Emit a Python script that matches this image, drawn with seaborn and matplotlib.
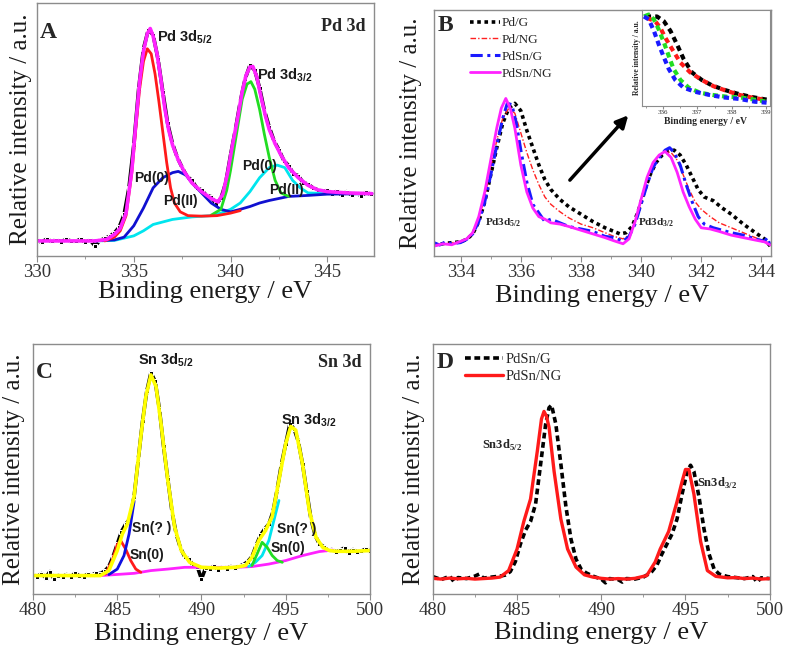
import matplotlib
matplotlib.use("Agg")
import matplotlib.pyplot as plt
from matplotlib.ticker import MultipleLocator
import seaborn as sns

# ---------------- panel A : Pd 3d fit ----------------
a_data_x = [330.00, 330.25, 330.50, 330.75, 331.00, 331.25, 331.50, 331.75, 332.00, 332.25,
            332.50, 332.75, 333.00, 333.25, 333.50, 333.75, 334.00, 334.25, 334.50, 334.75,
            335.00, 335.25, 335.50, 335.75, 336.00, 336.25, 336.50, 336.75, 337.00, 337.25,
            337.50, 337.75, 338.00, 338.25, 338.50, 338.75, 339.00, 339.25, 339.50, 339.75,
            340.00, 340.25, 340.50, 340.75, 341.00, 341.25, 341.50, 341.75, 342.00, 342.25,
            342.50, 342.75, 343.00, 343.25, 343.50, 343.75, 344.00, 344.25, 344.50, 344.75,
            345.00, 345.25, 345.50, 345.75, 346.00, 346.25, 346.50, 346.75, 347.00, 347.25]
a_data_y = [0.062, 0.055, 0.068, 0.058, 0.064, 0.057, 0.066, 0.060, 0.058, 0.067,
            0.055, 0.063, 0.040, 0.062, 0.070, 0.078, 0.092, 0.115, 0.165, 0.270,
            0.440, 0.660, 0.820, 0.895, 0.875, 0.780, 0.650, 0.525, 0.445, 0.390,
            0.350, 0.315, 0.300, 0.270, 0.262, 0.240, 0.235, 0.205, 0.228, 0.290,
            0.400, 0.500, 0.610, 0.700, 0.755, 0.735, 0.665, 0.575, 0.510, 0.455,
            0.420, 0.378, 0.358, 0.325, 0.318, 0.290, 0.285, 0.270, 0.262, 0.250,
            0.262, 0.245, 0.258, 0.240, 0.255, 0.242, 0.250, 0.238, 0.252, 0.244]
a_env_x = [330.0, 333.0, 333.6, 334.0, 334.3, 334.6, 334.9, 335.1, 335.3, 335.5, 335.7, 335.85,
           336.0, 336.2, 336.4, 336.6, 336.8, 337.0, 337.3, 337.6, 338.0, 338.5, 339.0, 339.35,
           339.6, 339.85, 340.1, 340.35, 340.6, 340.8, 341.0, 341.15, 341.35, 341.6, 341.8, 342.0,
           342.3, 342.6, 343.0, 343.5, 344.0, 344.5, 345.0, 346.0, 347.3]
a_env_y = [0.060, 0.060, 0.066, 0.086, 0.110, 0.170, 0.340, 0.520, 0.690, 0.810, 0.880, 0.900,
           0.870, 0.800, 0.700, 0.585, 0.500, 0.440, 0.380, 0.335, 0.290, 0.255, 0.228, 0.214,
           0.245, 0.330, 0.440, 0.540, 0.650, 0.715, 0.748, 0.750, 0.710, 0.620, 0.555, 0.500,
           0.445, 0.400, 0.350, 0.310, 0.280, 0.262, 0.255, 0.250, 0.247]
a_red_x = [333.5, 334.0, 334.3, 334.6, 334.9, 335.1, 335.3, 335.5, 335.7, 335.9, 336.1, 336.3,
           336.5, 336.7, 336.9, 337.1, 337.4, 337.8, 338.5, 339.3, 340.0, 340.5]
a_red_y = [0.060, 0.075, 0.100, 0.160, 0.330, 0.500, 0.660, 0.770, 0.820, 0.800, 0.720, 0.610,
           0.490, 0.370, 0.270, 0.210, 0.175, 0.160, 0.158, 0.160, 0.170, 0.180]
a_blue_x = [333.0, 334.0, 334.5, 335.0, 335.5, 336.0, 336.5, 337.0, 337.3, 337.7, 338.0, 338.5,
            339.0, 339.5, 340.0, 340.5, 341.0, 341.5, 342.0, 343.0, 344.0, 345.0, 347.3]
a_blue_y = [0.060, 0.064, 0.075, 0.120, 0.190, 0.270, 0.310, 0.330, 0.335, 0.320, 0.290, 0.250,
            0.210, 0.185, 0.175, 0.185, 0.196, 0.210, 0.220, 0.236, 0.240, 0.245, 0.247]
a_cyan_x = [333.0, 334.0, 335.0, 335.5, 336.0, 337.0, 338.0, 339.0, 339.5, 340.0, 340.5, 341.0,
            341.5, 342.0, 342.4, 342.8, 343.2, 343.6, 344.0, 345.0, 347.3]
a_cyan_y = [0.060, 0.062, 0.080, 0.100, 0.125, 0.145, 0.155, 0.160, 0.170, 0.185, 0.210, 0.255,
            0.310, 0.350, 0.360, 0.350, 0.300, 0.270, 0.250, 0.247, 0.247]
a_green_x = [339.0, 339.5, 339.8, 340.0, 340.3, 340.6, 340.85, 341.05, 341.25, 341.5, 341.75,
             342.0, 342.3, 342.6, 343.0]
a_green_y = [0.162, 0.185, 0.260, 0.340, 0.480, 0.620, 0.680, 0.690, 0.660, 0.580, 0.480,
             0.390, 0.300, 0.250, 0.236]

# ---------------- panel B : Pd 3d comparison ----------------
b_labels = ["Pd/G", "Pd/NG", "PdSn/G", "PdSn/NG"]
b_pdg_x = [333.1, 333.5, 334.0, 334.2, 334.4, 334.6, 334.8, 335.0, 335.2, 335.4, 335.6, 335.8,
           336.0, 336.2, 336.4, 336.6, 336.8, 337.0, 337.3, 337.6, 338.0, 338.4, 338.8, 339.1,
           339.3, 339.5, 339.7, 339.9, 340.1, 340.3, 340.5, 340.7, 340.9, 341.1, 341.3, 341.5,
           341.7, 341.9, 342.1, 342.4, 342.7, 343.0, 343.4, 343.8, 344.1, 344.3]
b_pdg_y = [0.045, 0.052, 0.058, 0.068, 0.090, 0.140, 0.220, 0.330, 0.440, 0.540, 0.600, 0.620,
           0.590, 0.510, 0.440, 0.370, 0.310, 0.270, 0.230, 0.200, 0.170, 0.140, 0.115, 0.100,
           0.090, 0.095, 0.120, 0.180, 0.260, 0.330, 0.380, 0.410, 0.425, 0.430, 0.410, 0.370,
           0.320, 0.270, 0.240, 0.225, 0.195, 0.170, 0.130, 0.095, 0.070, 0.040]
b_pdng_x = [333.1, 333.5, 334.0, 334.2, 334.4, 334.6, 334.8, 335.0, 335.2, 335.4, 335.6, 335.8,
            336.0, 336.2, 336.4, 336.6, 336.8, 337.0, 337.3, 337.6, 338.0, 338.4, 338.8, 339.1,
            339.4, 339.6, 339.8, 340.0, 340.2, 340.4, 340.6, 340.8, 341.0, 341.2, 341.4, 341.6,
            341.8, 342.0, 342.3, 342.6, 343.0, 343.4, 343.8, 344.1, 344.3]
b_pdng_y = [0.045, 0.050, 0.060, 0.072, 0.095, 0.150, 0.240, 0.360, 0.470, 0.560, 0.600, 0.580,
            0.500, 0.420, 0.350, 0.290, 0.240, 0.210, 0.180, 0.155, 0.130, 0.115, 0.095, 0.080,
            0.070, 0.085, 0.140, 0.230, 0.320, 0.380, 0.410, 0.425, 0.420, 0.390, 0.330, 0.270,
            0.220, 0.190, 0.160, 0.135, 0.115, 0.095, 0.075, 0.060, 0.050]
b_pdsng_x = [333.1, 333.3, 333.5, 333.7, 334.0, 334.2, 334.4, 334.6, 334.8, 335.0, 335.2, 335.4,
             335.55, 335.7, 335.85, 336.0, 336.2, 336.4, 336.6, 336.8, 337.0, 337.3, 337.6, 338.0,
             338.4, 338.8, 339.1, 339.4, 339.6, 339.8, 340.0, 340.2, 340.4, 340.6, 340.8, 340.95,
             341.1, 341.3, 341.5, 341.7, 341.9, 342.1, 342.4, 342.7, 343.0, 343.4, 343.8, 344.1,
             344.2, 344.3]
b_pdsng_y = [0.055, 0.045, 0.058, 0.050, 0.055, 0.068, 0.090, 0.140, 0.220, 0.330, 0.450, 0.560,
             0.620, 0.615, 0.540, 0.430, 0.300, 0.210, 0.175, 0.140, 0.150, 0.135, 0.120, 0.110,
             0.100, 0.080, 0.075, 0.060, 0.080, 0.130, 0.210, 0.290, 0.360, 0.400, 0.430, 0.440,
             0.420, 0.370, 0.290, 0.220, 0.160, 0.130, 0.115, 0.105, 0.095, 0.085, 0.070, 0.060,
             0.075, 0.040]
b_pdsnng_x = [333.1, 333.4, 333.7, 334.0, 334.2, 334.4, 334.6, 334.8, 335.0, 335.2, 335.35, 335.5,
              335.65, 335.8, 336.0, 336.2, 336.4, 336.6, 336.8, 337.0, 337.3, 337.6, 338.0, 338.4,
              338.8, 339.1, 339.4, 339.6, 339.8, 340.0, 340.2, 340.4, 340.6, 340.8, 341.0, 341.2,
              341.4, 341.6, 341.8, 342.0, 342.3, 342.6, 343.0, 343.4, 343.8, 344.1, 344.3]
b_pdsnng_y = [0.040, 0.050, 0.046, 0.060, 0.070, 0.095, 0.160, 0.260, 0.390, 0.520, 0.600, 0.640,
              0.600, 0.520, 0.370, 0.260, 0.195, 0.160, 0.150, 0.135, 0.130, 0.120, 0.105, 0.090,
              0.075, 0.062, 0.050, 0.070, 0.140, 0.230, 0.320, 0.380, 0.410, 0.425, 0.400, 0.340,
              0.260, 0.200, 0.150, 0.115, 0.110, 0.100, 0.085, 0.075, 0.065, 0.058, 0.045]

# inset of B (zoom on the 3d5/2 tail)
in_black_x = [335.50, 335.83, 336.03, 336.22, 336.41, 336.60, 336.84, 337.13, 337.42, 337.76,
              338.14, 338.53, 338.91, 339.10]
in_black_y = [0.93, 0.93, 0.88, 0.78, 0.64, 0.49, 0.35, 0.27, 0.215, 0.17, 0.13, 0.096, 0.072, 0.061]
in_red_x = [335.54, 335.78, 335.93, 336.07, 336.27, 336.51, 336.79, 337.13, 337.47, 337.85,
            338.24, 338.62, 339.01]
in_red_y = [0.915, 0.88, 0.81, 0.71, 0.59, 0.45, 0.35, 0.27, 0.205, 0.157, 0.113, 0.085, 0.061]
in_green_x = [335.45, 335.59, 335.74, 335.88, 336.03, 336.17, 336.31, 336.51, 336.75, 337.08,
              337.47, 337.85, 338.24, 338.62, 339.01]
in_green_y = [0.93, 0.95, 0.90, 0.795, 0.66, 0.52, 0.385, 0.27, 0.19, 0.137, 0.113, 0.096,
              0.089, 0.068, 0.044]
in_blue_x = [335.45, 335.59, 335.74, 335.88, 336.03, 336.17, 336.36, 336.60, 336.94, 337.37,
             337.76, 338.24, 338.67, 339.01]
in_blue_y = [0.93, 0.90, 0.78, 0.64, 0.505, 0.385, 0.27, 0.19, 0.147, 0.113, 0.089, 0.072,
             0.044, 0.034]

# ---------------- panel C : Sn 3d fit ----------------
c_data_x = [480.00 + 0.25 * i for i in range(81)]
c_data_y = [0.078, 0.070, 0.082, 0.066, 0.090, 0.060, 0.074, 0.070, 0.078, 0.068,
            0.085, 0.072, 0.070, 0.080, 0.076, 0.085, 0.082, 0.092, 0.110, 0.150,
            0.200, 0.250, 0.280, 0.300, 0.390, 0.540, 0.690, 0.810, 0.885, 0.850,
            0.740, 0.590, 0.460, 0.330, 0.240, 0.185, 0.150, 0.140, 0.115, 0.110,
            0.060, 0.105, 0.100, 0.112, 0.098, 0.108, 0.102, 0.110, 0.104, 0.112,
            0.118, 0.130, 0.150, 0.195, 0.235, 0.260, 0.280, 0.330, 0.420, 0.520,
            0.600, 0.680, 0.660, 0.610, 0.520, 0.410, 0.300, 0.235, 0.200, 0.190,
            0.175, 0.178, 0.168, 0.176, 0.185, 0.165, 0.178, 0.168, 0.172, 0.180, 0.172]
c_env_x = [480.0, 484.0, 484.5, 485.0, 485.3, 485.6, 486.0, 486.4, 486.7, 487.0, 487.3, 487.6,
           488.0, 488.4, 488.8, 489.3, 490.0, 491.0, 492.0, 492.6, 493.0, 493.4, 493.8, 494.2,
           494.6, 495.0, 495.3, 495.6, 496.0, 496.4, 496.8, 497.2, 497.6, 498.0, 499.0, 500.0]
c_env_y = [0.074, 0.074, 0.094, 0.174, 0.240, 0.280, 0.390, 0.630, 0.790, 0.876, 0.830, 0.680,
           0.455, 0.270, 0.174, 0.127, 0.107, 0.104, 0.107, 0.114, 0.147, 0.214, 0.254, 0.310,
           0.455, 0.600, 0.670, 0.655, 0.520, 0.334, 0.227, 0.187, 0.174, 0.171, 0.171, 0.174]
c_bg_x = [480.0, 484.0, 486.0, 487.0, 488.0, 489.0, 492.0, 493.0, 494.0, 495.0, 496.0, 497.0, 497.8]
c_bg_y = [0.074, 0.074, 0.083, 0.094, 0.100, 0.107, 0.107, 0.110, 0.120, 0.134, 0.154, 0.170, 0.176]
c_red_x = [484.3, 484.7, 485.0, 485.2, 485.5, 485.8, 486.1, 486.4]
c_red_y = [0.080, 0.134, 0.198, 0.214, 0.180, 0.134, 0.100, 0.087]
c_blue_x = [484.5, 485.0, 485.4, 485.7, 486.0]
c_blue_y = [0.078, 0.100, 0.154, 0.240, 0.370]
c_cyan_x = [492.8, 493.2, 493.6, 494.0, 494.3, 494.6]
c_cyan_y = [0.110, 0.127, 0.154, 0.214, 0.294, 0.374]
c_green_x = [493.0, 493.3, 493.6, 493.9, 494.2, 494.5, 494.8]
c_green_y = [0.114, 0.160, 0.207, 0.187, 0.154, 0.134, 0.127]

# ---------------- panel D : Sn 3d comparison ----------------
d_labels = ["PdSn/G", "PdSn/NG"]
d_g_x = [480.0, 480.5, 481.0, 481.25, 481.5, 482.0, 482.5, 482.75, 483.0, 483.5, 484.0, 484.3,
         484.6, 484.9, 485.2, 485.5, 485.8, 486.1, 486.4, 486.7, 486.9, 487.05, 487.3, 487.6,
         487.9, 488.2, 488.5, 488.8, 489.1, 489.5, 490.0, 490.25, 490.5, 491.0, 491.25, 491.5,
         492.0, 492.5, 492.75, 493.0, 493.3, 493.6, 493.9, 494.2, 494.5, 494.8, 495.1, 495.3,
         495.5, 495.8, 496.1, 496.4, 496.7, 497.0, 497.5, 498.0, 498.5, 499.0, 499.25, 499.5, 500.0]
d_g_y = [0.070, 0.058, 0.072, 0.050, 0.066, 0.062, 0.072, 0.080, 0.064, 0.068, 0.072, 0.076,
         0.090, 0.130, 0.200, 0.255, 0.290, 0.360, 0.520, 0.680, 0.745, 0.755, 0.680, 0.520,
         0.350, 0.220, 0.140, 0.100, 0.085, 0.072, 0.060, 0.045, 0.062, 0.058, 0.048, 0.062,
         0.060, 0.068, 0.078, 0.090, 0.115, 0.160, 0.200, 0.240, 0.300, 0.400, 0.490, 0.515,
         0.490, 0.390, 0.260, 0.160, 0.100, 0.080, 0.070, 0.066, 0.062, 0.070, 0.048, 0.065, 0.062]
d_ng_x = [480.0, 480.5, 481.0, 481.5, 482.0, 482.5, 483.0, 483.5, 484.0, 484.5, 485.0, 485.4,
          485.8, 486.2, 486.45, 486.6, 486.75, 486.9, 487.2, 487.6, 488.0, 488.5, 489.0, 489.5,
          490.0, 490.5, 491.0, 491.5, 492.0, 492.7, 493.2, 493.5, 494.0, 494.5, 494.8, 495.0,
          495.2, 495.5, 495.9, 496.3, 496.8, 497.5, 498.0, 498.5, 499.0, 499.5, 500.0]
d_ng_y = [0.063, 0.060, 0.064, 0.061, 0.063, 0.060, 0.062, 0.064, 0.068, 0.094, 0.180, 0.290,
          0.380, 0.570, 0.700, 0.730, 0.710, 0.666, 0.490, 0.300, 0.180, 0.108, 0.077, 0.068,
          0.063, 0.060, 0.062, 0.060, 0.063, 0.074, 0.128, 0.180, 0.250, 0.370, 0.450, 0.498,
          0.498, 0.400, 0.210, 0.094, 0.071, 0.065, 0.066, 0.062, 0.064, 0.060, 0.062]

# ---------------- style ----------------
sns.set_style("ticks")
plt.rcParams["font.family"] = ["Liberation Serif", "DejaVu Serif"]
plt.rcParams["mathtext.fontset"] = "custom"
plt.rcParams["mathtext.rm"] = "Liberation Serif"
plt.rcParams["mathtext.sf"] = "Liberation Sans:bold"
plt.rcParams["mathtext.bf"] = "Liberation Serif:bold"

FRAME = "#8c8c8c"
INK = "#1a1a1a"


def curve(ax, x, y, color, lw=2.0, ls="-", **kw):
    sns.lineplot(x=x, y=y, ax=ax, color=color, linewidth=lw, linestyle=ls,
                 estimator=None, sort=False, **kw)


def frame(ax, xlim, major, minor, ylab_x, xlab_y):
    ax.set_xlim(*xlim)
    ax.set_ylim(0, 1)
    ax.xaxis.set_major_locator(MultipleLocator(major))
    ax.xaxis.set_minor_locator(MultipleLocator(minor))
    ax.set_yticks([])
    for s in ax.spines.values():
        s.set_color(FRAME)
        s.set_linewidth(1.0)
    ax.tick_params(axis="x", which="major", length=4, color=FRAME, labelsize=13.5,
                   pad=2, labelcolor="#333333")
    ax.tick_params(axis="x", which="minor", length=2.5, color=FRAME)
    ax.set_xlabel("Binding energy / eV", fontsize=19, color=INK)
    ax.set_ylabel("Relative intensity / a.u.", fontsize=18, color=INK)
    ax.yaxis.set_label_coords(ylab_x, 0.5)
    ax.xaxis.set_label_coords(0.5, xlab_y)
    ax.xaxis.label.set_va("top")


fig = plt.figure(figsize=(7.87, 6.5), dpi=100)
axA = fig.add_axes([0.047, 0.606, 0.428, 0.389])
axB = fig.add_axes([0.551, 0.606, 0.429, 0.379])
axC = fig.add_axes([0.042, 0.086, 0.428, 0.385])
axD = fig.add_axes([0.550, 0.086, 0.428, 0.385])

# ---- A ----
curve(axA, a_data_x, a_data_y, "black", lw=2.6, marker="s", markersize=3.2)
curve(axA, a_cyan_x, a_cyan_y, "#00e5ee", lw=2.0)
curve(axA, a_blue_x, a_blue_y, "#1010d0", lw=2.0)
curve(axA, a_green_x, a_green_y, "#22dd22", lw=2.0)
curve(axA, a_red_x, a_red_y, "#ff1a1a", lw=2.0)
curve(axA, a_env_x, a_env_y, "#ff22ff", lw=2.6)
frame(axA, (330, 347.4), 5, 2.5, -0.015, -0.10)
sans = dict(family="Liberation Sans", weight="bold", color=INK)
axA.text(0.008, 0.885, "A", transform=axA.transAxes, fontsize=17, weight="bold", va="center")
axA.text(0.975, 0.91, "Pd 3d", transform=axA.transAxes, fontsize=13, weight="bold",
         ha="right", va="center")
axA.text(336.2, 0.865, r"Pd 3d$_{\mathsf{5/2}}$", fontsize=10.5, va="center", **sans)
axA.text(341.35, 0.715, r"Pd 3d$_{\mathsf{3/2}}$", fontsize=10.5, va="center", **sans)
axA.text(335.9, 0.31, "Pd(0)", fontsize=10, ha="center", va="center", **sans)
axA.text(337.4, 0.217, "Pd(II)", fontsize=10, ha="center", va="center", **sans)
axA.text(341.5, 0.356, "Pd(0)", fontsize=10, ha="center", va="center", **sans)
axA.text(342.9, 0.26, "Pd(II)", fontsize=10, ha="center", va="center", **sans)

# ---- B ----
curve(axB, b_pdg_x, b_pdg_y, "black", lw=2.6, ls=(0, (1, 1)), label=b_labels[0])
curve(axB, b_pdng_x, b_pdng_y, "#ff2020", lw=1.0, ls=(0, (4, 1.5, 1, 1.5)), label=b_labels[1])
curve(axB, b_pdsng_x, b_pdsng_y, "#1a1aff", lw=2.2, ls=(0, (4, 1.5, 1, 1.5)), label=b_labels[2])
curve(axB, b_pdsnng_x, b_pdsnng_y, "#ff22ff", lw=2.0, label=b_labels[3])
frame(axB, (333.1, 344.33), 2, 1, -0.033, -0.118)
axB.legend(loc="upper left", bbox_to_anchor=(0.085, 1.0), frameon=False, fontsize=9.5,
           handlelength=2.3, handletextpad=0.15, labelspacing=0.35, borderaxespad=0.15)
axB.text(0.012, 0.935, "B", transform=axB.transAxes, fontsize=17, weight="bold", va="center")
axB.text(335.4, 0.134, r"Pd3d$_{\mathbf{5/2}}$", fontsize=8, weight="bold", ha="center", va="center")
axB.text(340.5, 0.134, r"Pd3d$_{\mathbf{3/2}}$", fontsize=8, weight="bold", ha="center", va="center")
axB.annotate("", xy=(0.582, 0.58), xytext=(0.398, 0.30), xycoords="axes fraction",
             arrowprops=dict(arrowstyle="-|>", lw=2.5, color="black", mutation_scale=18))

axI = fig.add_axes([0.816, 0.837, 0.162, 0.148])
dash = (0, (1.3, 1.0))
curve(axI, in_black_x, in_black_y, "black", lw=3, ls=dash)
curve(axI, in_red_x, in_red_y, "#ff1a1a", lw=3, ls=dash)
curve(axI, in_green_x, in_green_y, "#22dd22", lw=3, ls=dash)
curve(axI, in_blue_x, in_blue_y, "#1a1aff", lw=3, ls=dash)
axI.set_xlim(335.4, 339.1)
axI.set_ylim(0, 1)
axI.xaxis.set_major_locator(MultipleLocator(1))
axI.xaxis.set_minor_locator(MultipleLocator(0.5))
axI.set_yticks([])
for s in axI.spines.values():
    s.set_color(FRAME)
    s.set_linewidth(0.8)
axI.tick_params(axis="x", which="major", length=2, color=FRAME, labelsize=5, pad=1)
axI.tick_params(axis="x", which="minor", length=1.2, color=FRAME)
axI.set_xlabel("Binding energy / eV", fontsize=7, weight="bold", labelpad=1)
axI.set_ylabel("Relative intensity / a.u.", fontsize=5.5, weight="bold", labelpad=1)

# ---- C ----
curve(axC, c_data_x, c_data_y, "black", lw=2.6, marker="s", markersize=3.2)
curve(axC, c_bg_x, c_bg_y, "#ff22ff", lw=2.0)
curve(axC, c_red_x, c_red_y, "#ff1a1a", lw=2.0)
curve(axC, c_blue_x, c_blue_y, "#1010e0", lw=2.0)
curve(axC, c_cyan_x, c_cyan_y, "#00e5ee", lw=2.0)
curve(axC, c_green_x, c_green_y, "#22dd22", lw=2.0)
curve(axC, c_env_x, c_env_y, "#ffff00", lw=2.6)
frame(axC, (480, 500), 5, 2.5, -0.024, -0.116)
axC.text(0.008, 0.884, "C", transform=axC.transAxes, fontsize=17, weight="bold", va="center")
axC.text(0.975, 0.924, "Sn 3d", transform=axC.transAxes, fontsize=13, weight="bold",
         ha="right", va="center")
axC.text(487.9, 0.936, r"Sn 3d$_{\mathsf{5/2}}$", fontsize=10.5, ha="center", va="center", **sans)
axC.text(496.4, 0.696, r"Sn 3d$_{\mathsf{3/2}}$", fontsize=10.5, ha="center", va="center", **sans)
axC.text(485.9, 0.264, "Sn(? )", fontsize=10, va="center", **sans)
axC.text(485.75, 0.156, "Sn(0)", fontsize=10, va="center", **sans)
axC.text(494.5, 0.26, "Sn(? )", fontsize=10, va="center", **sans)
axC.text(494.1, 0.184, "Sn(0)", fontsize=10, va="center", **sans)

# ---- D ----
curve(axD, d_g_x, d_g_y, "black", lw=2.6, ls=(0, (1.6, 1.0)), label=d_labels[0])
curve(axD, d_ng_x, d_ng_y, "#ff1a1a", lw=2.4, label=d_labels[1])
frame(axD, (480, 500), 5, 2.5, -0.024, -0.112)
axD.legend(loc="upper left", bbox_to_anchor=(0.07, 1.0), frameon=False, fontsize=10.5,
           handlelength=2.6, handletextpad=0.15, labelspacing=0.3, borderaxespad=0.2)
axD.text(0.012, 0.924, "D", transform=axD.transAxes, fontsize=17, weight="bold", va="center")
axD.text(484.1, 0.596, r"Sn3d$_{\mathbf{5/2}}$", fontsize=9, weight="bold", ha="center", va="center")
axD.text(495.67, 0.444, r"Sn3d$_{\mathbf{3/2}}$", fontsize=9, weight="bold", va="center")

fig.savefig("out.png", dpi=100)
